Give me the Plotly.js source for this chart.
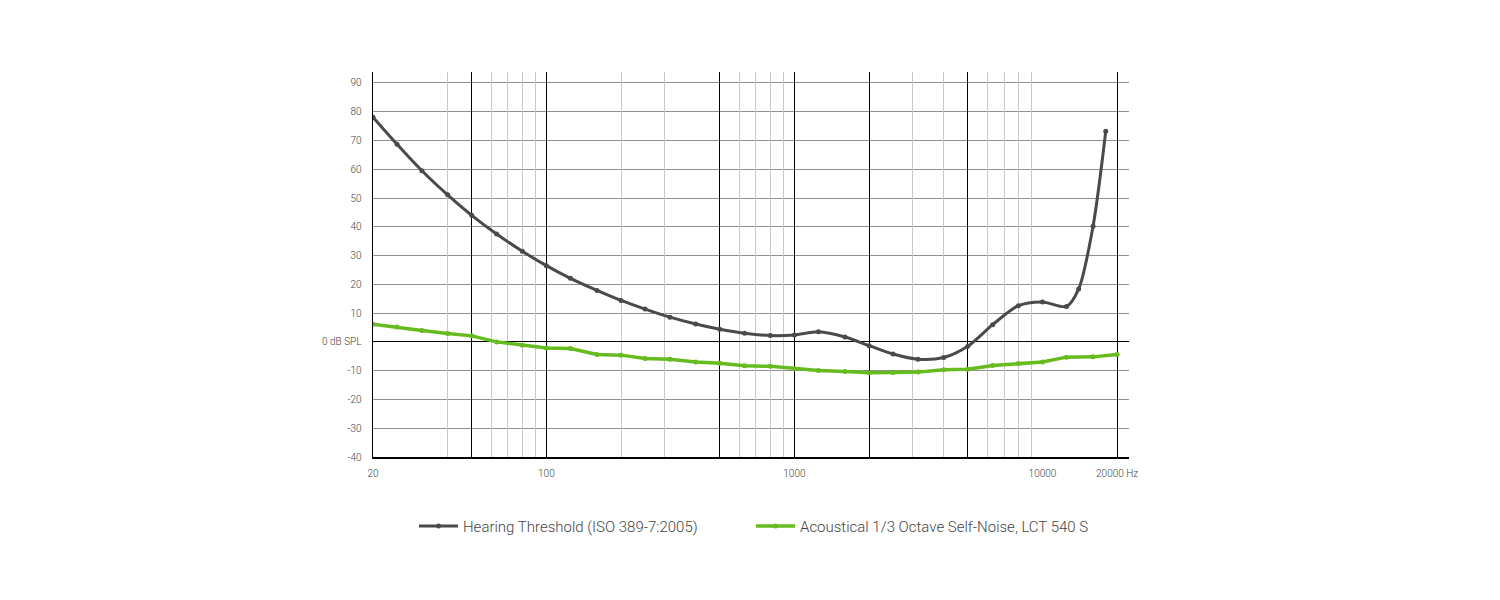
<!DOCTYPE html>
<html>
<head>
<meta charset="utf-8">
<script src="https://cdn.plot.ly/plotly-3.0.1.min.js"></script>
<style>
  html, body { margin: 0; padding: 0; background: #fff; }
  #chart { width: 1500px; height: 600px; }
</style>
</head>
<body>
<div id="chart"></div>
<script>
// third-octave frequencies (Hz)
var thresholdFreq = [20, 25, 31.5, 40, 50, 63, 80, 100, 125, 160, 200, 250, 315, 400, 500, 630, 800, 1000,
    1250, 1600, 2000, 2500, 3150, 4000, 5000, 6300, 8000, 10000, 12500, 14000, 16000, 18000];
var thresholdDb = [78.1, 68.7, 59.5, 51.1, 44.0, 37.5, 31.5, 26.5, 22.1, 17.9, 14.4, 11.4, 8.6, 6.2, 4.4, 3.0, 2.2, 2.4,
    3.5, 1.7, -1.3, -4.2, -6.0, -5.4, -1.5, 6.0, 12.6, 13.9, 12.3, 18.4, 40.2, 73.2];

var noiseFreq = [20, 25, 31.5, 40, 50, 63, 80, 100, 125, 160, 200, 250, 315, 400, 500, 630, 800, 1000,
    1250, 1600, 2000, 2500, 3150, 4000, 5000, 6300, 8000, 10000, 12500, 16000, 20000];
var noiseDb = [6.1, 5.2, 4.0, 2.9, 2.1, 0.0, -1.2, -2.1, -2.3, -4.4, -4.6, -5.8, -6.0, -7.0, -7.4, -8.3, -8.5, -9.3,
    -9.9, -10.3, -10.7, -10.6, -10.5, -9.7, -9.5, -8.2, -7.5, -7.0, -5.3, -5.2, -4.4];

// axis labels
var xTickVals = [20, 100, 1000, 10000, 20000];
var xTickText = ['20', '100', '1000', '10000', '20000 Hz'];
var yTickVals = [-40, -30, -20, -10, 0, 10, 20, 30, 40, 50, 60, 70, 80, 90];
var yTickText = ['-40', '-30', '-20', '-10', '0 dB SPL', '10', '20', '30', '40', '50', '60', '70', '80', '90'];

// vertical grid lines
var grayGrid = [40, 60, 70, 80, 90, 200, 300, 600, 700, 800, 900, 3000, 4000, 6000, 7000, 8000, 9000];
var blackGrid = [50, 100, 500, 1000, 2000, 5000, 20000];

var xRange = [Math.log10(20), 4.349];

var data = [
    { x: [], y: [], xaxis: 'x2', showlegend: false, hoverinfo: 'skip' },
    { x: [], y: [], xaxis: 'x3', showlegend: false, hoverinfo: 'skip' },
    {
        x: thresholdFreq,
        y: thresholdDb,
        name: 'Hearing Threshold (ISO 389-7:2005)',
        mode: 'lines+markers',
        line: { color: '#4a4a4a', width: 3, shape: 'spline', smoothing: 0.8 },
        marker: { color: '#4a4a4a', size: 5 }
    },
    {
        x: noiseFreq,
        y: noiseDb,
        name: 'Acoustical 1/3 Octave Self-Noise, LCT 540 S',
        mode: 'lines+markers',
        line: { color: '#66bb1e', width: 3.5 },
        marker: { color: '#66bb1e', size: 5 }
    }
];

var font = { family: 'Roboto, Arial, sans-serif', size: 10, color: '#444', weight: 300 };

var layout = {
    width: 1500,
    height: 600,
    paper_bgcolor: '#fff',
    plot_bgcolor: '#fff',
    margin: { l: 373, r: 371, t: 72, b: 143 },
    font: font,
    showlegend: true,
    legend: {
        orientation: 'h',
        x: 0.5, xanchor: 'center',
        y: -0.18, yanchor: 'middle',
        font: { family: 'Roboto, Arial, sans-serif', size: 15, color: '#444', weight: 300 },
        itemwidth: 39,
        entrywidth: 283,
        entrywidthmode: 'pixels'
    },
    xaxis: {
        type: 'log',
        range: xRange,
        autorange: false,
        tickvals: xTickVals,
        ticktext: xTickText,
        showgrid: false,
        zeroline: false,
        showline: true,
        linecolor: '#000',
        linewidth: 1.5,
        ticks: 'outside',
        ticklen: 6,
        tickcolor: 'rgba(0,0,0,0)',
        fixedrange: true
    },
    xaxis2: {
        type: 'log',
        range: xRange,
        autorange: false,
        overlaying: 'x',
        anchor: 'y',
        tickvals: grayGrid,
        showticklabels: false,
        showgrid: true,
        gridcolor: '#c8c8c8',
        gridwidth: 1,
        zeroline: false
    },
    xaxis3: {
        type: 'log',
        range: xRange,
        autorange: false,
        overlaying: 'x',
        anchor: 'y',
        tickvals: blackGrid,
        showticklabels: false,
        showgrid: true,
        gridcolor: '#000',
        gridwidth: 1,
        zeroline: false
    },
    yaxis: {
        range: [-40, 93.8],
        autorange: false,
        tickvals: yTickVals,
        ticktext: yTickText,
        showgrid: true,
        gridcolor: '#8f8f8f',
        gridwidth: 1,
        zeroline: true,
        zerolinecolor: '#000',
        zerolinewidth: 1.2,
        showline: true,
        linecolor: '#000',
        linewidth: 1.5,
        ticks: 'outside',
        ticklen: 8,
        tickcolor: 'rgba(0,0,0,0)',
        fixedrange: true
    }
};

Plotly.newPlot('chart', data, layout, { displayModeBar: false, staticPlot: true });
</script>
</body>
</html>
